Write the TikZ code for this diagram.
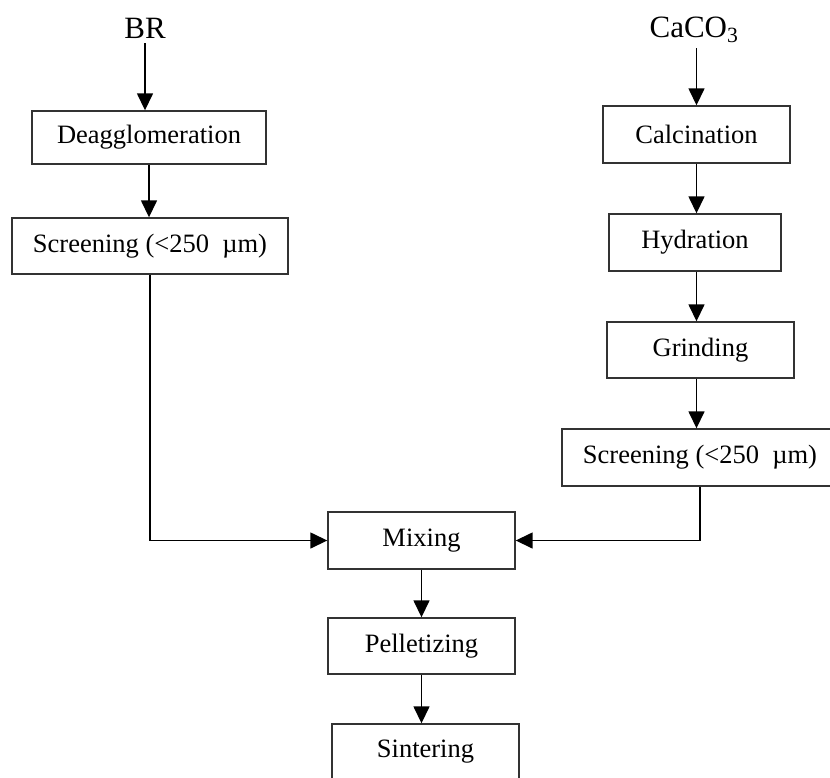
\documentclass[tikz,border=0pt]{standalone}
\usepackage{fontspec}
\setmainfont{Liberation Serif}
\usetikzlibrary{arrows.meta}
\tikzset{
  >={Triangle[length=17pt,width=16pt]},
  box/.style={draw=black!80, line width=1.4pt, inner sep=0pt, minimum height=56pt, align=center, font=\fontsize{26.5}{30}\selectfont},
  feed/.style={inner sep=5pt, anchor=base, font=\fontsize{31}{34}\selectfont},
  flow/.style={->, line width=1.5pt},
}

\begin{document}
\begin{tikzpicture}[x=1pt, y=-1pt]
      \useasboundingbox (0,0) rectangle (830,777);
      \clip (0,0) rectangle (830,777);

      % red mud line
      \node[feed] (br) at (145,38) {BR};
      \node[box, minimum width=234pt, minimum height=53pt] (deag) at (149,137.5) {Deagglomeration};
      \node[box, minimum width=276pt] (scrL) at (150,246) {Screening (<250\ \ µm)};

      % lime line
      \node[feed] (caco) at (694,37) {CaCO\textsubscript{3}};
      \node[box, minimum width=187pt, minimum height=57pt] (calc) at (696.5,134.5) {Calcination};
      \node[box, minimum width=172pt, minimum height=57pt] (hydr) at (695,242.5) {Hydration};
      \node[box, minimum width=187pt] (grind) at (700.5,350) {Grinding};
      \node[box, minimum width=276pt, minimum height=57pt] (scrR) at (700,457.5) {Screening (<250\ \ µm)};

      % common line
      \node[box, minimum width=187pt, minimum height=57pt] (mix) at (421.5,540.5) {Mixing};
      \node[box, minimum width=187pt] (pell) at (421.5,646) {Pelletizing};
      \node[box, minimum width=187pt] (sint) at (425.5,752) {Sintering};

      \draw[flow] (br.south) -- (br.south |- deag.north);
      \draw[flow] (deag.south) -- (deag.south |- scrL.north);
      \draw[flow] (calc.north |- caco.south) -- (calc.north);
      \draw[flow] (calc.south) -- (calc.south |- hydr.north);
      \draw[flow] (calc.south |- hydr.south) -- (calc.south |- grind.north);
      \draw[flow] (calc.south |- grind.south) -- (calc.south |- scrR.north);
      \draw[flow] (scrL) |- (mix);
      \draw[flow] (scrR) |- (mix);
      \draw[flow] (mix) -- (pell);
      \draw[flow] (pell.south) -- (pell.south |- sint.north);
    \end{tikzpicture}
\end{document}
